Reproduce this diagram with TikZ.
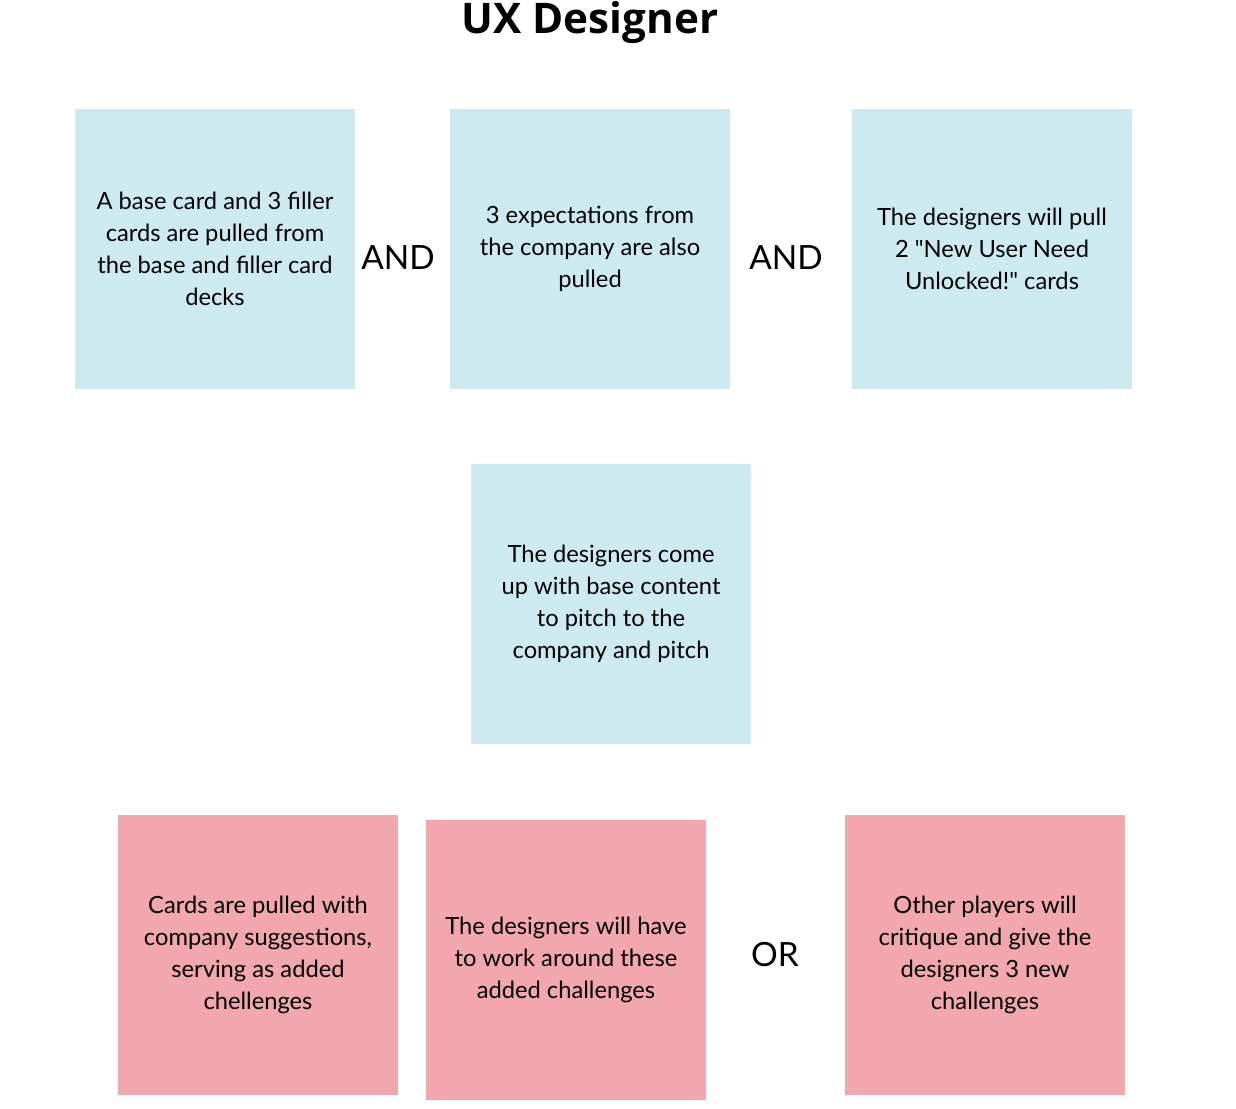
\documentclass[tikz,border=0pt]{standalone}
\usepackage{fontspec}
\setmainfont{Lato}
\newfontfamily\titlefont{Open Sans}
\newfontfamily\quotefont{Lato}[Ligatures=TeXOff]
\definecolor{cardblue}{HTML}{CDEAF0}
\definecolor{cardpink}{HTML}{F1A7AD}
\newcommand{\sq}{{\quotefont"}}
\tikzset{
  card/.style={minimum width=5.6cm, minimum height=5.6cm, inner sep=0pt,
    align=center, font=\fontsize{13.5}{18.2}\selectfont},
  bluecard/.style={card, fill=cardblue},
  pinkcard/.style={card, fill=cardpink},
  joiner/.style={font=\fontsize{19}{22}\selectfont}
}
\begin{document}
\begin{tikzpicture}[x=0.02cm,y=-0.02cm]
\useasboundingbox (0,0) rectangle (1236,1108);
\node[font=\titlefont\bfseries\fontsize{24}{28}\selectfont, anchor=base] (title) at (590,34) {UX Designer};
% top row
\node[bluecard] (pull) at (215,249) {A base card and 3 filler\\cards are pulled from\\the base and filler card\\decks};
\node[bluecard] (expect) at (590,249) {3 expectations from\\the company are also\\pulled};
\node[bluecard] (need) at (992,249) {The designers will pull\\2 \sq New User Need\\Unlocked!\sq{} cards};
\node[joiner] (and1) at (398,258) {AND};
\node[joiner] (and2) at (786,258) {AND};
% middle
\node[bluecard] (pitch) at (611,604) {The designers come\\up with base content\\to pitch to the\\company and pitch};
% bottom row
\node[pinkcard] (suggest) at (258,955) {Cards are pulled with\\company suggestions,\\serving as added\\chellenges};
\node[pinkcard] (workaround) at (566,960) {The designers will have\\to work around these\\added challenges};
\node[pinkcard] (critique) at (985,955) {Other players will\\critique and give the\\designers 3 new\\challenges};
\node[joiner] (or) at (775,955) {OR};
\end{tikzpicture}
\end{document}
